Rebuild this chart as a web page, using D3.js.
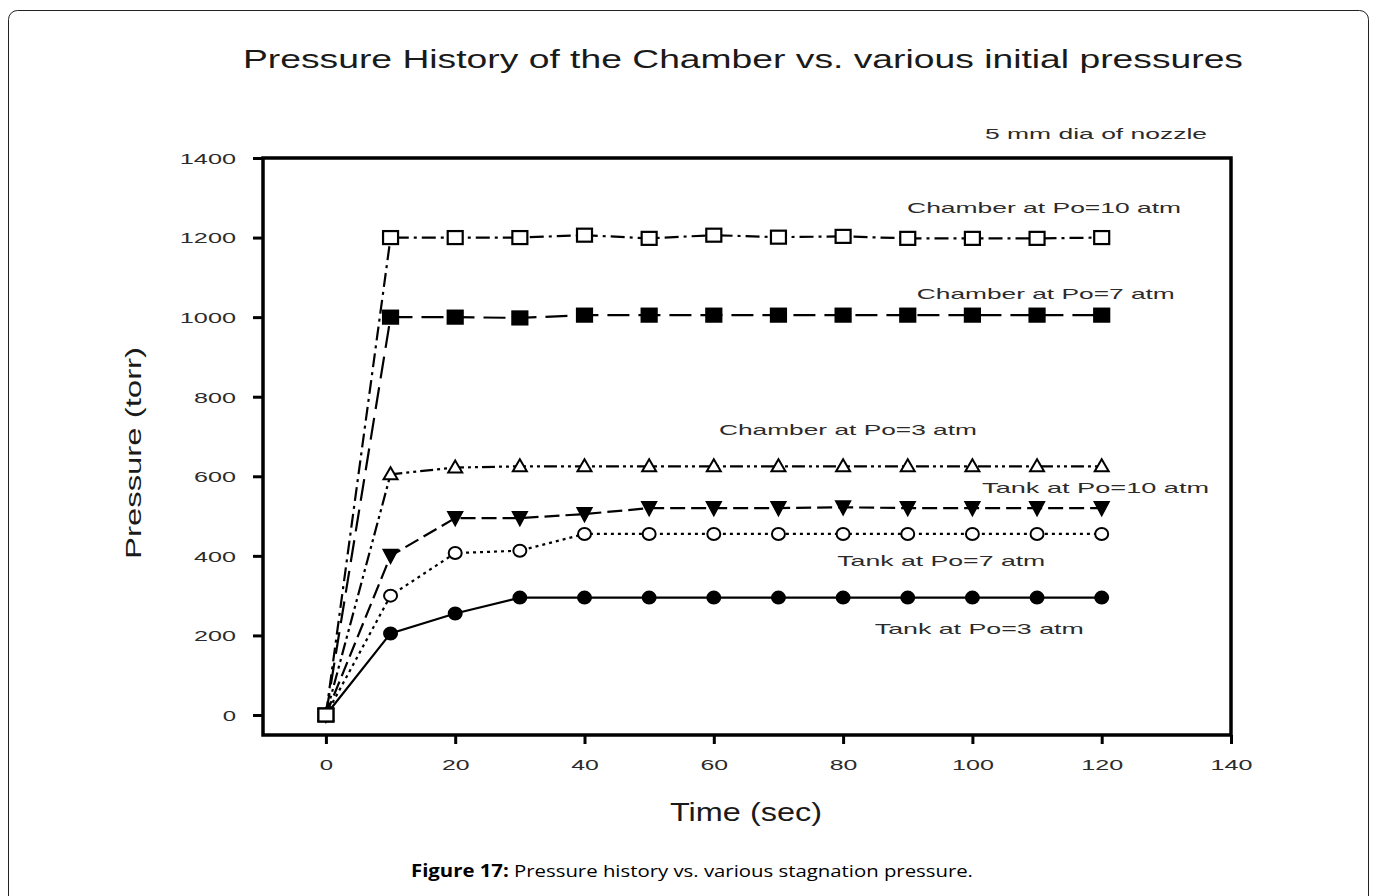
<!DOCTYPE html>
<html lang="en">
<head>
<meta charset="UTF-8">
<title>Pressure History of the Chamber</title>
<script src="https://d3js.org/d3.v7.min.js"></script>
<style>
  body { margin: 0; padding: 0; background: #fff; overflow: hidden; }
  svg { display: block; }
  .lbl { font-family: "Liberation Sans", Arial, sans-serif; fill: #2b2b2b; }
</style>
</head>
<body>
<svg id="chart" width="1376" height="896"></svg>
<script>
// time axis (sec)
const times = [0, 10, 20, 30, 40, 50, 60, 70, 80, 90, 100, 110, 120];

// pressures (torr)
const chamber10 = [0, 1200, 1200, 1200, 1206, 1198, 1206, 1201, 1203, 1198, 1198, 1198, 1200];
const chamber7  = [0, 1000, 1000, 998, 1005, 1005, 1005, 1005, 1005, 1005, 1005, 1005, 1005];
const chamber3  = [0, 605, 622, 625, 625, 625, 625, 625, 625, 625, 625, 625, 625];
const tank10    = [0, 400, 495, 495, 505, 520, 520, 520, 522, 520, 520, 520, 520];
const tank7     = [0, 300, 407, 413, 455, 455, 455, 455, 455, 455, 455, 455, 455];
const tank3     = [0, 205, 255, 295, 295, 295, 295, 295, 295, 295, 295, 295, 295];

const xTicks = [0, 20, 40, 60, 80, 100, 120, 140];
const yTicks = [0, 200, 400, 600, 800, 1000, 1200, 1400];

const seriesNames = ["Chamber at Po=10 atm", "Chamber at Po=7 atm", "Chamber at Po=3 atm",
                     "Tank at Po=10 atm", "Tank at Po=7 atm", "Tank at Po=3 atm"];
const seriesValues = [chamber10, chamber7, chamber3, tank10, tank7, tank3];

// where each series label sits, in data units (time, pressure)
const labelTime = [89.9, 91.4, 60.8, 101.5, 79.1, 84.9];
const labelPressure = [1261, 1045, 703, 558, 374, 204];

// styling per series
const styles = [
  { dash: "14,5,3,5", marker: "square", fill: "#fff" },
  { dash: "22,9", marker: "square", fill: "#000" },
  { dash: "13,4,3,4,3,4", marker: "triUp", fill: "#fff" },
  { dash: "15,6", marker: "triDown", fill: "#000" },
  { dash: "3,4", marker: "circle", fill: "#fff" },
  { dash: null, marker: "circle", fill: "#000" }
];
const labelWidths = [274, 258, 258, 227, 208, 209];

const svg = d3.select("#chart");
const font = '"Liberation Sans", Arial, sans-serif';

// outer frame of the figure
svg.append("rect")
  .attr("x", 8.5).attr("y", 10.5)
  .attr("width", 1360).attr("height", 910)
  .attr("rx", 9)
  .attr("fill", "none").attr("stroke", "#222").attr("stroke-width", 1);

const plot = { left: 263, right: 1231, top: 158, bottom: 735 };

const x = d3.scaleLinear().domain([-9.73, 140]).range([plot.left, plot.right]);
const y = d3.scaleLinear().domain([-50.3, 1400]).range([plot.bottom, plot.top]);

// title
svg.append("text").attr("class", "lbl")
  .attr("x", 243).attr("y", 68)
  .attr("font-size", 26).attr("textLength", 1000).attr("lengthAdjust", "spacingAndGlyphs")
  .style("fill", "#1a1a1a")
  .text("Pressure History of the Chamber vs. various initial pressures");

svg.append("text").attr("class", "lbl")
  .attr("x", 985).attr("y", 139)
  .attr("font-size", 15).attr("textLength", 222).attr("lengthAdjust", "spacingAndGlyphs")
  .text("5 mm dia of nozzle");

// axes
const xAxis = d3.axisBottom(x).tickValues(xTicks).tickSize(9).tickSizeOuter(0).tickFormat(d3.format("d"));
const yAxis = d3.axisLeft(y).tickValues(yTicks).tickSize(10).tickSizeOuter(0).tickFormat(d3.format("d"));

const gx = svg.append("g").attr("transform", `translate(0,${plot.bottom})`).call(xAxis);
const gy = svg.append("g").attr("transform", `translate(${plot.left},0)`).call(yAxis);

[gx, gy].forEach(g => {
  g.select(".domain").remove();
  g.selectAll(".tick line").attr("stroke", "#000").attr("stroke-width", 3);
  g.selectAll(".tick text")
    .attr("font-family", font).attr("font-size", 15).attr("fill", "#2b2b2b")
    .attr("lengthAdjust", "spacingAndGlyphs")
    .attr("textLength", d => String(d).length * 14.3 - 1);
});
gx.selectAll(".tick text").attr("y", 30).attr("dy", "0.32em");
gy.selectAll(".tick text").attr("x", -27).attr("dy", "0.36em");

// box frame
svg.append("rect")
  .attr("x", plot.left).attr("y", plot.top)
  .attr("width", plot.right - plot.left).attr("height", plot.bottom - plot.top)
  .attr("fill", "none").attr("stroke", "#000").attr("stroke-width", 3.5);

// axis titles
svg.append("text").attr("class", "lbl")
  .attr("transform", "translate(141,453) rotate(-90)")
  .attr("text-anchor", "middle")
  .attr("font-size", 22).attr("textLength", 212).attr("lengthAdjust", "spacingAndGlyphs")
  .style("fill", "#1a1a1a")
  .text("Pressure (torr)");

svg.append("text").attr("class", "lbl")
  .attr("x", 746).attr("y", 821)
  .attr("text-anchor", "middle")
  .attr("font-size", 25).attr("textLength", 152).attr("lengthAdjust", "spacingAndGlyphs")
  .style("fill", "#1a1a1a")
  .text("Time (sec)");

// lines
const line = d3.line().x(d => x(d[0])).y(d => y(d[1]));

seriesValues.forEach((vals, i) => {
  const pts = times.map((t, j) => [t, vals[j]]);
  svg.append("path")
    .attr("d", line(pts))
    .attr("fill", "none").attr("stroke", "#000").attr("stroke-width", 2.2)
    .attr("stroke-dasharray", styles[i].dash);
});

// markers (drawn bottom series first so the open square ends up on top at t=0)
seriesValues.slice().reverse().forEach((vals, k) => {
  const st = styles[seriesValues.length - 1 - k];
  const g = svg.append("g");
  times.forEach((t, j) => {
    const cx = x(t), cy = y(vals[j]);
    if (st.marker === "square") {
      g.append("rect").attr("x", cx - 7.5).attr("y", cy - 6.5)
        .attr("width", 15).attr("height", 13)
        .attr("fill", st.fill).attr("stroke", "#000").attr("stroke-width", 2.2);
    } else if (st.marker === "circle") {
      g.append("ellipse").attr("cx", cx).attr("cy", cy).attr("rx", 6.5).attr("ry", 6)
        .attr("fill", st.fill).attr("stroke", "#000").attr("stroke-width", 2);
    } else if (st.marker === "triUp") {
      g.append("path")
        .attr("d", `M${cx},${cy - 7}L${cx + 7},${cy + 5}L${cx - 7},${cy + 5}Z`)
        .attr("fill", st.fill).attr("stroke", "#000").attr("stroke-width", 2);
    } else {
      g.append("path")
        .attr("d", `M${cx - 7},${cy - 6}L${cx + 7},${cy - 6}L${cx},${cy + 7}Z`)
        .attr("fill", st.fill).attr("stroke", "#000").attr("stroke-width", 2);
    }
  });
});

// series labels
seriesNames.forEach((name, i) => {
  svg.append("text").attr("class", "lbl")
    .attr("x", x(labelTime[i])).attr("y", y(labelPressure[i]))
    .attr("font-size", 15)
    .attr("textLength", labelWidths[i]).attr("lengthAdjust", "spacingAndGlyphs")
    .text(name);
});

// caption
const cap = svg.append("text")
  .attr("x", 411).attr("y", 877)
  .attr("font-family", '"Open Sans", "Noto Sans", sans-serif')
  .attr("font-size", 17).attr("fill", "#000")
  .attr("textLength", 562).attr("lengthAdjust", "spacingAndGlyphs");
cap.append("tspan").attr("font-weight", "bold").text("Figure 17:");
cap.append("tspan").text(" Pressure history vs. various stagnation pressure.");
</script>
</body>
</html>
